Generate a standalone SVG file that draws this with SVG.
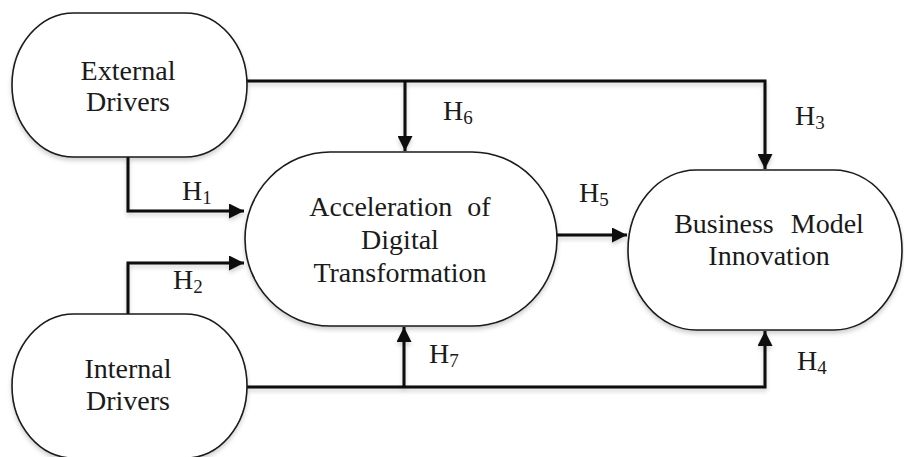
<svg xmlns="http://www.w3.org/2000/svg" width="904" height="457" viewBox="0 0 904 457">
  <style>
    .node { fill: #ffffff; stroke: #1a1a1a; stroke-width: 1.6; filter: url(#soft); }
    .label { font-family: "Liberation Serif", "Times New Roman", serif; font-size: 28px; fill: #1a1a1a; text-anchor: middle; }
    .hyp { font-family: "Liberation Serif", "Times New Roman", serif; font-size: 28px; fill: #1a1a1a; }
    .sub { font-size: 19px; }
    .wire { fill: none; stroke: #0d0d0d; stroke-width: 3; filter: url(#soft); }
  </style>
  <defs>
    <filter id="soft" filterUnits="userSpaceOnUse" x="0" y="0" width="904" height="457">
      <feDropShadow dx="0" dy="3" stdDeviation="2" flood-color="#000" flood-opacity="0.18"/>
    </filter>
    <marker id="arrow" viewBox="0 0 10 10" refX="10" refY="5" markerWidth="5.3" markerHeight="5" markerUnits="strokeWidth" orient="auto">
      <path d="M0,0 L10,5 L0,10 z" fill="#0d0d0d"/>
    </marker>
  </defs>

  <rect width="904" height="457" fill="#ffffff"/>

  <!-- Connectors -->
  <g id="connectors">
    <!-- External Drivers trunk to H6 and H3 -->
    <path class="wire" d="M247,81 H765 V169" marker-end="url(#arrow)"/>
    <path class="wire" d="M405,81 V151" marker-end="url(#arrow)"/>
    <!-- H1 -->
    <path class="wire" d="M128,157 V211 H244" marker-end="url(#arrow)"/>
    <!-- H2 -->
    <path class="wire" d="M128,314 V263 H244" marker-end="url(#arrow)"/>
    <!-- Internal Drivers trunk to H7 and H4 -->
    <path class="wire" d="M247,387 H765 V331" marker-end="url(#arrow)"/>
    <path class="wire" d="M404,387 V327" marker-end="url(#arrow)"/>
    <!-- H5 -->
    <path class="wire" d="M557,235 H627" marker-end="url(#arrow)"/>
  </g>

  <!-- Hypothesis labels -->
  <g id="hypotheses">
    <text class="hyp" x="182" y="200">H<tspan class="sub" dy="4">1</tspan></text>
    <text class="hyp" x="173" y="289">H<tspan class="sub" dy="4">2</tspan></text>
    <text class="hyp" x="795" y="125">H<tspan class="sub" dy="4">3</tspan></text>
    <text class="hyp" x="797" y="370">H<tspan class="sub" dy="4">4</tspan></text>
    <text class="hyp" x="579" y="202">H<tspan class="sub" dy="4">5</tspan></text>
    <text class="hyp" x="443" y="120">H<tspan class="sub" dy="4">6</tspan></text>
    <text class="hyp" x="429" y="363">H<tspan class="sub" dy="4">7</tspan></text>
  </g>

  <!-- Nodes -->
  <g id="external-drivers">
    <rect class="node" x="12" y="13" width="235" height="144" rx="62" ry="72"/>
    <text class="label" x="128" y="80">External</text>
    <text class="label" x="128" y="111">Drivers</text>
  </g>

  <g id="internal-drivers">
    <rect class="node" x="12" y="314" width="235" height="144" rx="62" ry="72"/>
    <text class="label" x="128" y="378">Internal</text>
    <text class="label" x="128" y="410">Drivers</text>
  </g>

  <g id="acceleration">
    <rect class="node" x="245" y="152" width="312" height="174" rx="85" ry="87"/>
    <text class="label" x="400" y="216" word-spacing="8">Acceleration of</text>
    <text class="label" x="400" y="249">Digital</text>
    <text class="label" x="400" y="282">Transformation</text>
  </g>

  <g id="business-model-innovation">
    <rect class="node" x="628" y="170" width="274" height="160" rx="68" ry="80"/>
    <text class="label" x="769" y="233" word-spacing="10">Business Model</text>
    <text class="label" x="769" y="265">Innovation</text>
  </g>
</svg>
